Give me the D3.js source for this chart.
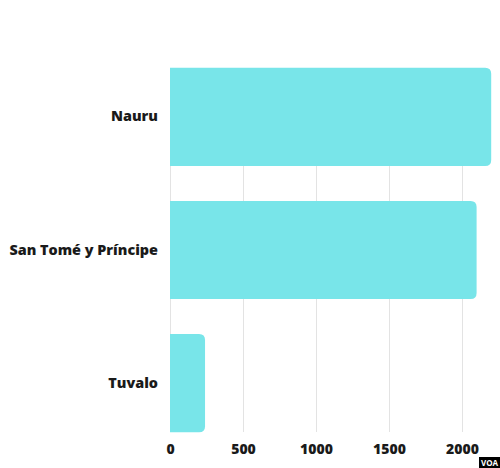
<!DOCTYPE html>
<html>
<head>
<meta charset="utf-8">
<script src="https://cdn.jsdelivr.net/npm/d3@7"></script>
<style>
  html, body { margin: 0; padding: 0; background: #fff; }
  svg { display: block; }
</style>
</head>
<body>
<svg id="chart" width="500" height="468"></svg>
<script>
const categories = ["Nauru", "San Tomé y Príncipe", "Tuvalo"];
const values = [2200, 2100, 240];
const tickValues = [0, 500, 1000, 1500, 2000];

const svg = d3.select("#chart");
const W = 500, H = 468;
const left = 170;

const x = d3.scaleLinear().domain([0, 2000]).range([left, 462]);
const y = d3.scaleBand().domain(categories).range([50.5, 449.5]).paddingInner(0.263).paddingOuter(0.13);

const font = "'Open Sans', 'Noto Sans', sans-serif";
const color = "#78e5e9";

// gridlines
const gTop = y(categories[0]);
const gBot = y(categories[categories.length - 1]) + y.bandwidth();
svg.append("g").selectAll("line").data(tickValues).join("line")
  .attr("x1", d => x(d)).attr("x2", d => x(d))
  .attr("y1", gTop).attr("y2", gBot)
  .attr("stroke", "#e3e3e3").attr("stroke-width", 1)
  .attr("shape-rendering", "crispEdges");

// bars with rounded right corners
const r = 6;
function barPath(d, i) {
  const x0 = x(0), x1 = x(d), y0 = y(categories[i]), h = y.bandwidth();
  const rr = Math.min(r, (x1 - x0) / 2);
  return `M${x0},${y0} H${x1 - rr} Q${x1},${y0} ${x1},${y0 + rr} V${y0 + h - rr} Q${x1},${y0 + h} ${x1 - rr},${y0 + h} H${x0} Z`;
}
svg.append("g").selectAll("path").data(values).join("path")
  .attr("d", barPath)
  .attr("fill", color);

// category labels
const yAxis = d3.axisLeft(y).tickSize(0).tickPadding(12);
const ya = svg.append("g").attr("transform", `translate(${left},0)`).call(yAxis);
ya.select(".domain").remove();
ya.selectAll("text")
  .attr("font-family", font).attr("font-size", 14.4).attr("font-weight", 800)
  .attr("fill", "#1a1a1a");

// x axis
const xAxis = d3.axisBottom(x).tickValues(tickValues).tickSize(0).tickPadding(0).tickFormat(d3.format("d"));
const xa = svg.append("g").attr("transform", `translate(0,${gBot + 12})`).call(xAxis);
xa.select(".domain").remove();
xa.selectAll("text")
  .attr("font-family", font).attr("font-size", 14).attr("font-weight", 800)
  .attr("fill", "#1a1a1a");

// VOA logo
svg.append("rect").attr("x", 479).attr("y", 457).attr("width", 21).attr("height", 11).attr("fill", "#000");
svg.append("text").attr("x", 489.5).attr("y", 466).attr("text-anchor", "middle")
  .attr("font-family", font).attr("font-size", 8).attr("font-weight", 700)
  .attr("fill", "#fff").text("VOA");
</script>
</body>
</html>
